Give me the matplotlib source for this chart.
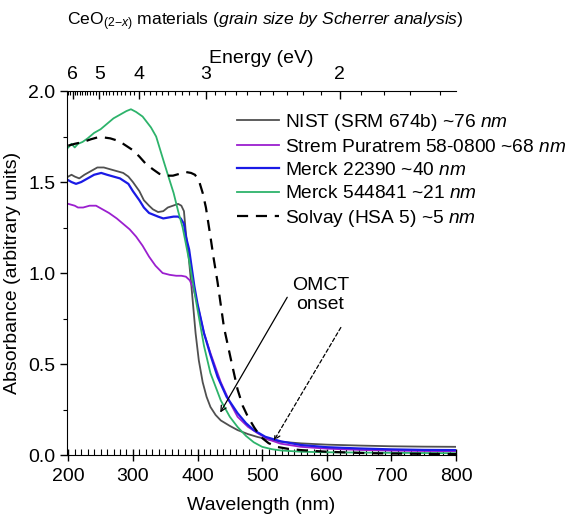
import matplotlib
matplotlib.use("Agg")
import matplotlib.pyplot as plt
from matplotlib.ticker import MultipleLocator, FixedLocator

plt.rcParams["font.family"] = ["Liberation Sans", "DejaVu Sans"]
plt.rcParams["mathtext.fontset"] = "custom"
plt.rcParams["mathtext.rm"] = "Liberation Sans"
plt.rcParams["mathtext.it"] = "Liberation Sans:italic"

# NIST (SRM 674b)
nist_wl = [200, 205, 210, 217, 225, 235, 245, 255, 265, 275, 285, 293, 300, 310, 317, 325,
           331, 339, 347, 354, 362, 370, 375, 379, 382, 386, 390, 397, 402, 408, 414, 420,
           428, 436, 450, 462, 478, 493, 510, 529, 560, 600, 650, 700, 750, 800]
nist_abs = [1.53, 1.54, 1.53, 1.52, 1.54, 1.56, 1.58, 1.58, 1.57, 1.56, 1.55, 1.53, 1.50, 1.45,
            1.40, 1.37, 1.35, 1.335, 1.34, 1.36, 1.37, 1.38, 1.37, 1.34, 1.22, 1.10, 0.95, 0.67,
            0.52, 0.40, 0.32, 0.264, 0.22, 0.19, 0.16, 0.137, 0.115, 0.099, 0.085, 0.073, 0.064,
            0.057, 0.052, 0.048, 0.046, 0.045]

# Strem Puratrem 58-0800
strem_wl = [200, 210, 215, 223, 233, 243, 253, 263, 275, 285, 295, 305, 315, 325, 335, 346,
            357, 367, 375, 382, 388, 393, 397, 403, 410, 420, 436, 450, 462, 478, 493, 510,
            529, 560, 600, 650, 700, 750, 800]
strem_abs = [1.38, 1.37, 1.36, 1.36, 1.37, 1.37, 1.35, 1.33, 1.30, 1.27, 1.24, 1.20, 1.15, 1.09,
             1.04, 1.00, 0.99, 0.985, 0.985, 0.98, 0.96, 0.92, 0.87, 0.78, 0.67, 0.56, 0.40,
             0.29, 0.21, 0.155, 0.12, 0.085, 0.062, 0.045, 0.035, 0.028, 0.024, 0.022, 0.021]

# Merck 22390
m22390_wl = [200, 205, 212, 220, 230, 240, 251, 260, 270, 280, 293, 300, 310, 317, 325, 332,
             339, 347, 355, 363, 370, 374, 379, 382, 387, 391, 395, 400, 410, 420, 431, 445,
             462, 475, 487, 505, 529, 560, 600, 650, 700, 750, 800]
m22390_abs = [1.51, 1.50, 1.49, 1.50, 1.52, 1.54, 1.55, 1.54, 1.53, 1.52, 1.49, 1.45, 1.40,
              1.36, 1.33, 1.32, 1.31, 1.30, 1.305, 1.31, 1.31, 1.30, 1.27, 1.20, 1.13, 1.03,
              0.93, 0.83, 0.67, 0.55, 0.43, 0.32, 0.23, 0.175, 0.137, 0.10, 0.075, 0.055,
              0.043, 0.036, 0.031, 0.028, 0.027]

# Merck 544841
m544841_wl = [200, 205, 210, 215, 222, 230, 240, 250, 260, 270, 280, 290, 297, 305, 315, 328,
              336, 348, 355, 363, 370, 377, 387, 397, 410, 420, 436, 450, 462, 475, 487, 500,
              515, 529, 560, 600, 700, 800]
m544841_abs = [1.69, 1.71, 1.69, 1.71, 1.72, 1.74, 1.77, 1.79, 1.82, 1.85, 1.87, 1.89, 1.90,
               1.885, 1.86, 1.80, 1.75, 1.61, 1.53, 1.44, 1.34, 1.25, 1.07, 0.86, 0.60, 0.45,
               0.30, 0.21, 0.154, 0.105, 0.07, 0.045, 0.032, 0.025, 0.018, 0.015, 0.012, 0.01]

# Solvay (HSA 5)
solvay_wl = [200, 210, 223, 235, 245, 255, 265, 274, 285, 300, 310, 320, 331, 341, 351, 362,
             372, 382, 390, 396, 402, 408, 413, 420, 425, 431, 441, 452, 462, 470, 478, 488,
             498, 510, 524, 540, 560, 600, 663, 700, 800]
solvay_abs = [1.70, 1.71, 1.72, 1.735, 1.745, 1.745, 1.74, 1.73, 1.71, 1.675, 1.64, 1.60, 1.57,
              1.545, 1.535, 1.535, 1.545, 1.555, 1.55, 1.54, 1.51, 1.44, 1.36, 1.20, 1.08, 0.95,
              0.70, 0.52, 0.36, 0.27, 0.21, 0.15, 0.099, 0.065, 0.044, 0.034, 0.027, 0.018,
              0.01, 0.008, 0.005]

energy_major = [6, 5, 4, 3, 2]
hc = 1239.84

fig = plt.figure(figsize=(5.71, 5.17), dpi=100)
ax = fig.add_axes([0.1173, 0.1199, 0.6813, 0.704])

ax.plot(nist_wl, nist_abs, color="#505050", lw=1.3, label="NIST (SRM 674b) ~$\\mathit{76\\ nm}$")
ax.plot(strem_wl, strem_abs, color="#9B1FCF", lw=1.3,
        label="Strem Puratrem 58-0800 ~$\\mathit{68\\ nm}$")
ax.plot(m22390_wl, m22390_abs, color="#1A1AE6", lw=1.6, label="Merck 22390 ~$\\mathit{40\\ nm}$")
ax.plot(m544841_wl, m544841_abs, color="#2DB36B", lw=1.3, label="Merck 544841 ~$\\mathit{21\\ nm}$")
ax.plot(solvay_wl, solvay_abs, color="black", lw=1.6, ls=(0, (5, 3.5)),
        label="Solvay (HSA 5) ~$\\mathit{5\\ nm}$")

ax.set_xlim(198, 800)
ax.set_ylim(0, 2.0)
ax.xaxis.set_major_locator(MultipleLocator(100))
ax.xaxis.set_minor_locator(MultipleLocator(10))
ax.yaxis.set_major_locator(MultipleLocator(0.5))
ax.yaxis.set_minor_locator(MultipleLocator(0.25))
ax.yaxis.set_major_formatter(plt.FuncFormatter(lambda v, p: f"{v:.1f}"))
ax.tick_params(axis="x", which="major", direction="inout", length=8, width=1, labelsize=14, pad=5)
ax.tick_params(axis="x", which="minor", direction="in", length=4, width=0.8)
ax.tick_params(axis="y", which="major", direction="out", length=5, width=1, labelsize=14)
ax.tick_params(axis="y", which="minor", direction="out", length=3, width=0.8)
ax.spines["right"].set_visible(False)
ax.spines["top"].set_visible(False)
ax.set_xlabel("Wavelength (nm)", fontsize=14, labelpad=9)
ax.set_ylabel("Absorbance (arbitrary units)", fontsize=14, labelpad=5)

ax_top = ax.twiny()
ax_top.set_xlim(ax.get_xlim())
ax_top.xaxis.set_major_locator(FixedLocator([hc / e for e in energy_major]))
ax_top.set_xticklabels([str(e) for e in energy_major])
minor_e = [x / 10 for x in range(14, 63)]
ax_top.xaxis.set_minor_locator(FixedLocator([hc / e for e in minor_e if 198 <= hc / e <= 800]))
ax_top.tick_params(axis="x", which="major", direction="in", length=6, width=1, labelsize=14, pad=6)
ax_top.tick_params(axis="x", which="minor", direction="in", length=3, width=0.8)
for side in ["right", "left", "bottom"]:
    ax_top.spines[side].set_visible(False)
ax_top.set_xlabel("Energy (eV)", fontsize=14, labelpad=2)

fig.text(0.464, 0.958, "CeO$_{(2\\mathrm{-}x)}$ materials $\\mathit{(grain\\ size\\ by\\ Scherrer\\ analysis)}$",
         ha="center", va="center", fontsize=12.6)

leg = ax.legend(loc="upper left", bbox_to_anchor=(0.437, 0.943), frameon=False, fontsize=13.8,
                handlelength=2.2, handletextpad=0.3, labelspacing=0.3, borderaxespad=0,
                borderpad=0)

ax.annotate("", xy=(433, 0.22), xytext=(541, 0.88),
            arrowprops=dict(arrowstyle="->", color="black", lw=0.9))
ax.annotate("", xy=(516, 0.066), xytext=(624, 0.714),
            arrowprops=dict(arrowstyle="->", color="black", lw=0.9, ls=(0, (3, 2))))
ax.text(590, 0.88, "OMCT\nonset", ha="center", va="center", fontsize=14, linespacing=1.2)

fig.savefig("out.png", dpi=100)
